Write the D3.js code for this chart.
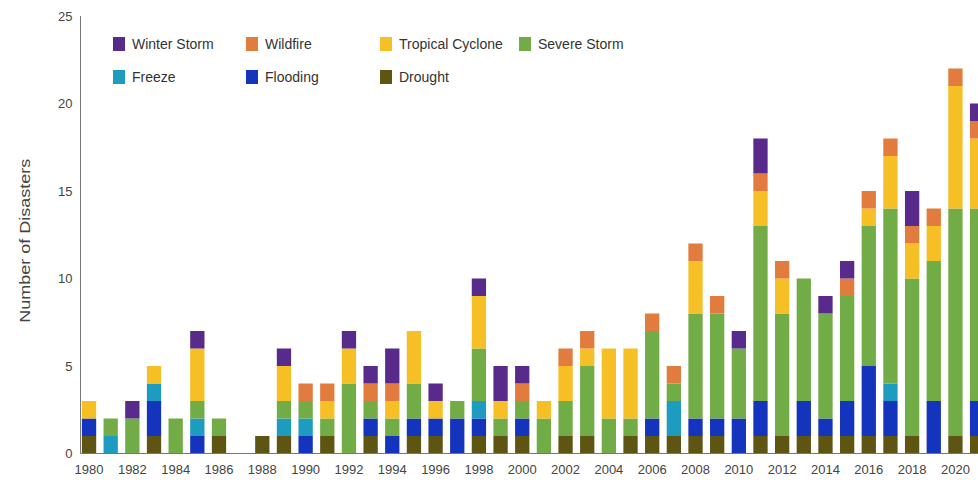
<!DOCTYPE html>
<html>
<head>
<meta charset="utf-8">
<script src="https://cdn.jsdelivr.net/npm/d3@7"></script>
<style>
  html, body { margin: 0; padding: 0; background: #fff; }
  svg { display: block; font-family: "Liberation Sans Narrow", "Liberation Sans", Arial, sans-serif; }
</style>
</head>
<body>
<svg id="chart" width="978" height="486"></svg>
<script>
// Billion-dollar disaster events per year, by type (1980–2021)
const years = d3.range(1980, 2022);

const drought       = [1,0,0,1,0,0,1,0,1,1, 0,1,0,1,0,1,1,0,1,1, 1,0,1,1,0,1,1,1,1,1, 0,1,1,1,1,1,1,1,1,0, 1,1];
const flooding      = [1,0,0,2,0,1,0,0,0,0, 1,0,0,1,1,1,1,2,1,0, 1,0,0,0,0,0,1,0,1,1, 2,2,0,2,1,2,4,2,0,3, 0,2];
const freeze        = [0,1,0,1,0,1,0,0,0,1, 1,0,0,0,0,0,0,0,1,0, 0,0,0,0,0,0,0,2,0,0, 0,0,0,0,0,0,0,1,0,0, 0,0];
const severeStorm   = [0,1,2,0,2,1,1,0,0,1, 1,1,4,1,1,2,0,1,3,1, 1,2,2,4,2,1,5,1,6,6, 4,10,7,7,6,6,8,10,9,8, 13,11];
const tropicalCyc   = [1,0,0,1,0,3,0,0,0,2, 0,1,2,0,1,3,1,0,3,1, 0,1,2,1,4,4,0,0,3,0, 0,2,2,0,0,0,1,3,2,2, 7,4];
const wildfire      = [0,0,0,0,0,0,0,0,0,0, 1,1,0,1,1,0,0,0,0,0, 1,0,1,1,0,0,1,1,1,1, 0,1,1,0,0,1,1,1,1,1, 1,1];
const winterStorm   = [0,0,1,0,0,1,0,0,0,1, 0,0,1,1,2,0,1,0,1,2, 1,0,0,0,0,0,0,0,0,0, 1,2,0,0,1,1,0,0,2,0, 0,1];

const yTicks = [0, 5, 10, 15, 20, 25];
const xTickYears = d3.range(1980, 2021, 2);

// Stacking order (bottom → top) and colours
const seriesKeys = ["Drought", "Flooding", "Freeze", "Severe Storm", "Tropical Cyclone", "Wildfire", "Winter Storm"];
const seriesValues = {
  "Drought": drought,
  "Flooding": flooding,
  "Freeze": freeze,
  "Severe Storm": severeStorm,
  "Tropical Cyclone": tropicalCyc,
  "Wildfire": wildfire,
  "Winter Storm": winterStorm
};
const colors = {
  "Winter Storm": "#572a8c",
  "Wildfire": "#e27c3e",
  "Tropical Cyclone": "#f6bf26",
  "Severe Storm": "#72ac47",
  "Freeze": "#1d9cc0",
  "Flooding": "#1434bd",
  "Drought": "#5e5512"
};

// Legend layout: rows of entries
const legendRows = [
  ["Winter Storm", "Wildfire", "Tropical Cyclone", "Severe Storm"],
  ["Freeze", "Flooding", "Drought"]
];

const table = years.map((yr, i) => {
  const row = { year: yr };
  seriesKeys.forEach(k => row[k] = seriesValues[k][i]);
  return row;
});

const svg = d3.select("#chart");
const axisX = 80.5;
const baseY = 453.5;

const x = d3.scaleBand()
  .domain(years)
  .range([78.2, 78.2 + years.length * 21.66])
  .paddingInner(0.34)
  .paddingOuter(0.17);

const y = d3.scaleLinear().domain([0, 25]).range([baseY, 16]);

const stacked = d3.stack().keys(seriesKeys)(table);

// Bars
svg.append("g")
  .selectAll("g")
  .data(stacked)
  .join("g")
  .attr("fill", d => colors[d.key])
  .selectAll("rect")
  .data(d => d.filter(s => s[1] > s[0]))
  .join("rect")
  .attr("x", d => x(d.data.year))
  .attr("width", x.bandwidth())
  .attr("y", d => y(d[1]))
  .attr("height", d => y(d[0]) - y(d[1]));

// Y axis
const yAxis = svg.append("g")
  .attr("transform", `translate(${axisX},0)`)
  .call(d3.axisLeft(y).tickValues(yTicks).tickSize(0).tickPadding(8));
yAxis.select(".domain").attr("stroke", "#777").attr("d", `M0,${y(25)}V${baseY}`);
yAxis.selectAll("text").attr("font-size", 13).attr("fill", "#444");

// X axis
const xAxis = svg.append("g")
  .attr("transform", `translate(0,${baseY})`)
  .call(d3.axisBottom(x).tickValues(xTickYears).tickSize(0).tickPadding(11));
xAxis.select(".domain").attr("stroke", "#777").attr("d", `M${axisX},0H978`);
xAxis.selectAll("text").attr("font-size", 13).attr("fill", "#444");

// Y axis title
svg.append("text")
  .attr("transform", `translate(30,${(y(25) + baseY) / 2 + 6}) rotate(-90)`)
  .attr("text-anchor", "middle")
  .attr("font-size", 14)
  .attr("fill", "#444")
  .attr("textLength", 164)
  .attr("lengthAdjust", "spacingAndGlyphs")
  .text("Number of Disasters");

// Legend
const legendCols = [113, 246, 380, 519];
const legendRowY = [44, 77];
const legend = svg.append("g");
legendRows.forEach((row, ri) => {
  row.forEach((key, ci) => {
    const g = legend.append("g")
      .attr("transform", `translate(${legendCols[ci]},${legendRowY[ri]})`);
    g.append("rect")
      .attr("x", 0).attr("y", -7)
      .attr("width", 12).attr("height", 14)
      .attr("fill", colors[key]);
    g.append("text")
      .attr("x", 19).attr("y", 5)
      .attr("font-size", 14)
      .attr("fill", "#333")
      .text(key);
  });
});
</script>
</body>
</html>
